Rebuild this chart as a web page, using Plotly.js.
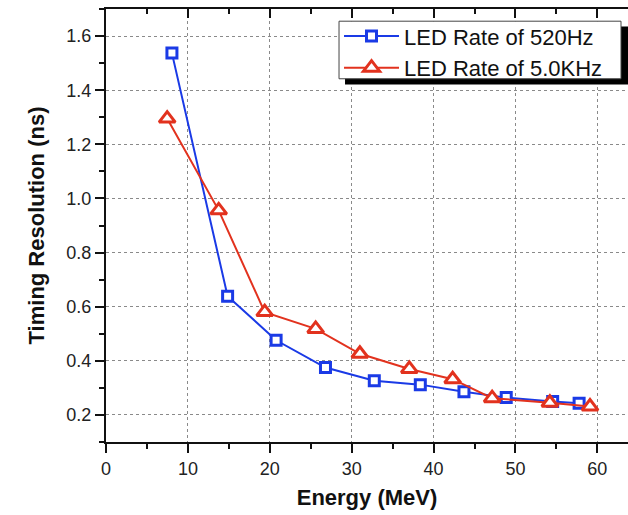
<!DOCTYPE html>
<html>
<head>
<meta charset="utf-8">
<script src="https://cdn.plot.ly/plotly-3.0.1.min.js"></script>
<style>
html,body{margin:0;padding:0;background:#fff;}
#chart{width:628px;height:515px;}
</style>
</head>
<body>
<div id="chart"></div>
<script>
// Data
const seriesNames = ["LED Rate of 520Hz", "LED Rate of 5.0KHz"];
const energy520 = [8.05, 14.85, 20.77, 26.8, 32.76, 38.38, 43.71, 48.87, 54.54, 57.77];
const res520    = [1.537, 0.639, 0.476, 0.375, 0.326, 0.312, 0.286, 0.264, 0.250, 0.243];
const energy5k  = [7.47, 13.76, 19.38, 25.6, 31.0, 37.04, 42.33, 47.15, 54.2, 59.1];
const res5k     = [1.295, 0.956, 0.58, 0.518, 0.426, 0.370, 0.332, 0.262, 0.245, 0.231];
const xTickVals = [0, 10, 20, 30, 40, 50, 60];
const yTickVals = [0.2, 0.4, 0.6, 0.8, 1.0, 1.2, 1.4, 1.6];
const xTitle = "Energy (MeV)";
const yTitle = "Timing Resolution (ns)";

const BLUE = "#1a3ae6";
const RED = "#e2321e";
const FONT = "'Liberation Sans', Arial, sans-serif";

const traces = [
  {
    x: energy520, y: res520, name: seriesNames[0], type: "scatter", mode: "lines+markers",
    line: {color: BLUE, width: 2},
    marker: {symbol: "square", size: 10, color: "#ffffff", line: {color: BLUE, width: 3}}
  },
  {
    x: energy5k, y: res5k, name: seriesNames[1], type: "scatter", mode: "lines+markers",
    line: {color: RED, width: 2},
    marker: {symbol: "triangle-up", size: 14, color: "#ffffff", line: {color: RED, width: 3}}
  },
  {
    // invisible trace hosting the top mirrored axis (inward ticks)
    x: [0], y: [0.1], xaxis: "x2", yaxis: "y", mode: "markers",
    marker: {opacity: 0}, showlegend: false, hoverinfo: "skip"
  }
];

const xRange = [0, 63.74];
const yRange = [0.1, 1.7];

const layout = {
  width: 628, height: 515,
  margin: {l: 106, r: 0, t: 8.5, b: 73.3},
  paper_bgcolor: "#ffffff", plot_bgcolor: "#ffffff",
  font: {family: FONT, color: "#111"},
  showlegend: true,
  xaxis: {
    range: xRange, tickvals: xTickVals, ticktext: xTickVals.map(String),
    showline: true, linecolor: "#111", linewidth: 2,
    ticks: "outside", ticklen: 9, tickwidth: 2, tickcolor: "#111",
    minor: {dtick: 5, tick0: 0, ticks: "outside", ticklen: 5, tickwidth: 2, tickcolor: "#111", showgrid: false},
    showgrid: true, gridcolor: "#8a8a8a", gridwidth: 1, griddash: "dot",
    zeroline: false,
    tickfont: {size: 18, family: FONT, color: "#222"},
    title: {text: xTitle, font: {size: 22, family: FONT, color: "#111", weight: "bold"}, standoff: 12}
  },
  xaxis2: {
    overlaying: "x", side: "top", anchor: "y", range: xRange,
    tickvals: xTickVals, showticklabels: false,
    showline: true, linecolor: "#111", linewidth: 2,
    ticks: "inside", ticklen: 9, tickwidth: 2, tickcolor: "#111",
    minor: {dtick: 5, tick0: 0, ticks: "inside", ticklen: 5, tickwidth: 2, tickcolor: "#111", showgrid: false},
    showgrid: false, zeroline: false
  },
  yaxis: {
    range: yRange, tickvals: yTickVals, ticktext: yTickVals.map(v => v.toFixed(1)),
    showline: true, linecolor: "#111", linewidth: 2,
    ticks: "outside", ticklen: 9, tickwidth: 2, tickcolor: "#111",
    minor: {dtick: 0.1, tick0: 0.1, ticks: "outside", ticklen: 5, tickwidth: 2, tickcolor: "#111", showgrid: false},
    showgrid: true, gridcolor: "#8a8a8a", gridwidth: 1, griddash: "dot",
    zeroline: false,
    tickfont: {size: 18, family: FONT, color: "#222"},
    title: {text: yTitle, font: {size: 22, family: FONT, color: "#111", weight: "bold"}, standoff: 16}
  },
  legend: {
    x: 0.4464, xanchor: "left", y: 0.9856, yanchor: "top",
    bgcolor: "rgba(0,0,0,0)", borderwidth: 0,
    font: {size: 22, family: FONT, color: "#111"},
    itemwidth: 55, tracegroupgap: 0
  },
  shapes: [
    // legend drop shadow
    {type: "rect", xref: "paper", yref: "paper", layer: "above",
     x0: 0.4579, x1: 1.02, y0: 0.82571, y1: 0.95960,
     fillcolor: "#000", line: {width: 0}},
    // legend box
    {type: "rect", xref: "paper", yref: "paper", layer: "above",
     x0: 0.4464, x1: 0.9866, y0: 0.83887, y1: 0.97184,
     fillcolor: "#fff", line: {color: "#444", width: 1}}
  ]
};

Plotly.newPlot("chart", traces, layout, {staticPlot: true, displayModeBar: false});
</script>
</body>
</html>
